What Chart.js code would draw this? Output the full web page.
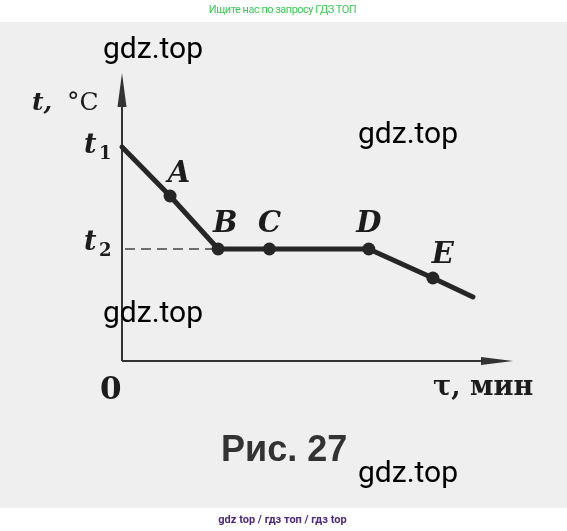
<!DOCTYPE html>
<html>
<head>
<meta charset="utf-8">
<script src="https://cdn.jsdelivr.net/npm/chart.js@4.4.1/dist/chart.umd.min.js"></script>
<style>
  html, body { margin: 0; padding: 0; background: #fff; }
  #page { position: relative; width: 567px; height: 531px; overflow: hidden; }
  #paper { position: absolute; left: 0; top: 22px; width: 567px; height: 486px; background: #efefef; }
  canvas { position: absolute; left: 0; top: 0; }
  .wm { position: absolute; font: 30px Roboto, sans-serif; line-height: 30px; color: #000; white-space: nowrap; }
  #head { position: absolute; left: 0; top: 4px; width: 565px; text-align: center; font: 11px Roboto, sans-serif; letter-spacing: -0.5px; line-height: 11px; color: #3acb55; }
  #foot { position: absolute; left: 0; top: 514px; width: 565px; text-align: center; font: bold 11px Roboto, sans-serif; line-height: 11px; color: #4e2a7e; }
  #caption { position: absolute; left: 221px; top: 431px; font: bold 36px "Liberation Sans", Arial, sans-serif; line-height: 36px; color: #333; }
</style>
</head>
<body>
<div id="page">
  <div id="paper"></div>
  <canvas id="chart" width="567" height="531"></canvas>
  <div id="head">Ищите нас по запросу ГДЗ ТОП</div>
  <div id="caption">Рис. 27</div>
  <div class="wm" style="left:103px;top:33px">gdz.top</div>
  <div class="wm" style="left:358px;top:118px">gdz.top</div>
  <div class="wm" style="left:103px;top:297px">gdz.top</div>
  <div class="wm" style="left:358px;top:457px">gdz.top</div>
  <div id="foot">gdz top / гдз топ / гдз top</div>
</div>
<script>
// cooling curve, values (arbitrary units)
const times = [0, 3, 6, 9.2, 15.4, 19.4, 21.9]
const temps = [21.4, 16.5, 11.2, 11.2, 11.2, 8.3, 6.4]
const pointNames = ['', 'A', 'B', 'C', 'D', 'E', '']
const X_MAX = 24.4
const Y_MAX = 28.8

const ink = '#262626'
const serif = '"DejaVu Serif", "Liberation Serif", serif'

// axes with arrows, dashed guide to t2
const sketchAxes = {
  id: 'sketchAxes',
  beforeDatasetsDraw(chart) {
    const { ctx, scales: { x, y } } = chart
    const x0 = x.getPixelForValue(0)
    const y0 = y.getPixelForValue(0)
    const xEnd = x.getPixelForValue(X_MAX)
    const yEnd = y.getPixelForValue(Y_MAX)
    ctx.save()
    ctx.strokeStyle = '#333'
    ctx.fillStyle = '#333'
    ctx.lineWidth = 2
    ctx.beginPath()
    ctx.moveTo(x0, y0)
    ctx.lineTo(x0, yEnd + 20)
    ctx.moveTo(x0, y0)
    ctx.lineTo(xEnd - 20, y0)
    ctx.stroke()
    // arrow heads
    ctx.beginPath()
    ctx.moveTo(x0, yEnd)
    ctx.lineTo(x0 - 4.5, yEnd + 34)
    ctx.lineTo(x0 + 4.5, yEnd + 34)
    ctx.closePath()
    ctx.fill()
    ctx.beginPath()
    ctx.moveTo(xEnd, y0)
    ctx.lineTo(xEnd - 32, y0 - 4)
    ctx.lineTo(xEnd - 32, y0 + 4)
    ctx.closePath()
    ctx.fill()
    // dashed line at t2
    const yt2 = y.getPixelForValue(temps[2])
    ctx.strokeStyle = '#444'
    ctx.lineWidth = 1.5
    ctx.setLineDash([10, 6])
    ctx.beginPath()
    ctx.moveTo(x0 + 3, yt2)
    ctx.lineTo(x.getPixelForValue(times[2]), yt2)
    ctx.stroke()
    ctx.restore()
  },
  afterDatasetsDraw(chart) {
    const { ctx, scales: { x, y } } = chart
    ctx.save()
    ctx.fillStyle = '#1c1c1c'
    ctx.textBaseline = 'alphabetic'
    ctx.textAlign = 'center'
    // point names
    const offs = { A: [9, -14], B: [7, -17], C: [0, -17], D: [0, -17], E: [10, -15] }
    ctx.font = 'italic bold 29px ' + serif
    pointNames.forEach((name, i) => {
      if (!name) return
      const px = x.getPixelForValue(times[i]) + offs[name][0]
      const py = y.getPixelForValue(temps[i]) + offs[name][1]
      ctx.fillText(name, px, py)
    })
    ctx.textAlign = 'left'
    // t1, t2 on the y axis
    const subT = (sub, yv, dy) => {
      const py = y.getPixelForValue(yv) + dy
      ctx.font = 'italic bold 27px ' + serif
      ctx.fillText('t', 84, py)
      ctx.font = 'bold 18px ' + serif
      ctx.fillText(sub, 99, py + 6)
    }
    subT('1', temps[0], 6)
    subT('2', temps[2], 1)
    // axis titles
    ctx.font = 'italic bold 25px ' + serif
    ctx.fillText('t,', 32, 110)
    ctx.font = '25px ' + serif
    ctx.fillText('°C', 67, 110)
    ctx.font = 'bold 31px ' + serif
    ctx.fillText('0', 100, 399)
    ctx.font = 'bold 27px ' + serif
    ctx.fillText('τ, мин', 433, 395)
    ctx.restore()
  }
}

new Chart(document.getElementById('chart'), {
  type: 'scatter',
  data: {
    datasets: [{
      data: times.map((t, i) => ({ x: t, y: temps[i] })),
      showLine: true,
      borderColor: ink,
      borderWidth: 5,
      borderCapStyle: 'round',
      borderJoinStyle: 'round',
      backgroundColor: ink,
      pointRadius: pointNames.map(n => (n ? 6.5 : 0)),
      pointBorderWidth: 0,
      clip: false
    }]
  },
  options: {
    responsive: false,
    animation: false,
    layout: { padding: { left: 122, right: 54, top: 73, bottom: 170 } },
    plugins: { legend: { display: false }, tooltip: { enabled: false } },
    scales: {
      x: { type: 'linear', min: 0, max: X_MAX, display: false },
      y: { type: 'linear', min: 0, max: Y_MAX, display: false }
    }
  },
  plugins: [sketchAxes]
})
</script>
</body>
</html>
